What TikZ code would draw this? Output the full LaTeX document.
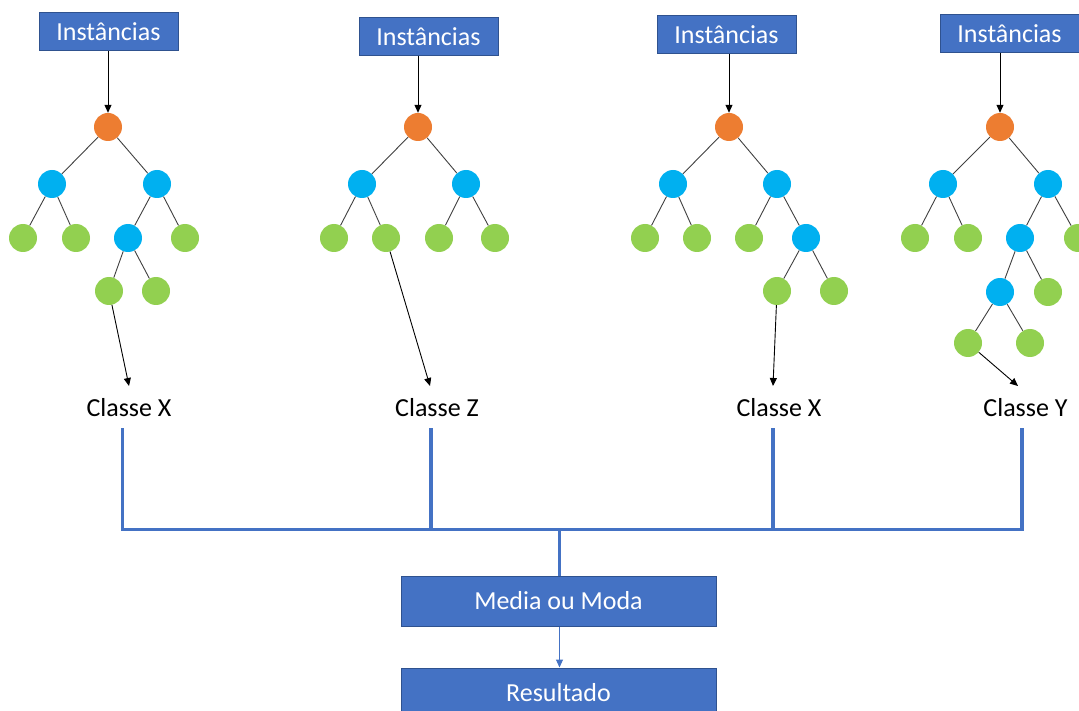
\documentclass[tikz,border=0pt]{standalone}
\usepackage{fontspec}
\setmainfont{Carlito}
\usetikzlibrary{arrows.meta}
\definecolor{boxblue}{HTML}{4472C4}
\definecolor{boxedge}{HTML}{2F528F}
\definecolor{rootorange}{HTML}{ED7D31}
\definecolor{splitblue}{HTML}{00B0F0}
\definecolor{leafgreen}{HTML}{92D050}
\definecolor{edgegrey}{HTML}{404040}
\begin{document}
\begin{tikzpicture}[x=1pt,y=-1pt,
  txt/.style={font=\fontsize{26}{31}\selectfont},
  inbox/.style={txt,draw=boxedge,line width=1pt,fill=boxblue,text=white,
    inner sep=0pt,minimum width=139pt,minimum height=38pt},
  bigbox/.style={inbox,minimum width=315pt,minimum height=50pt},
  root/.style={circle,fill=rootorange,minimum size=28pt,inner sep=0pt},
  split/.style={circle,fill=splitblue,minimum size=28pt,inner sep=0pt},
  leaf/.style={circle,fill=leafgreen,minimum size=28pt,inner sep=0pt},
  edge/.style={draw=edgegrey,line width=0.9pt},
  arr/.style={draw=black,line width=0.9pt,-{Triangle[length=8pt,width=7pt]}},
  cls/.style={txt,anchor=base,text height=18pt,text depth=0pt,inner xsep=2pt,inner ysep=12pt},
  bus/.style={draw=boxblue,line width=3.5pt,line join=miter},
  thinarr/.style={draw=boxblue,line width=1pt,-{Triangle[length=8pt,width=7pt]}}]
\useasboundingbox (0,0) rectangle (1079,711);
\clip (0,0) rectangle (1079,711);

% input boxes
\node[inbox] (in1) at (108.5,32) {Instâncias};
\node[inbox] (in2) at (428.5,36.5) {Instâncias};
\node[inbox] (in3) at (726.5,35) {Instâncias};
\node[inbox] (in4) at (1009.5,33.5) {Instâncias};

% tree 1
\node[root] (a0) at (108,127) {};
\node[split] (a1) at (52,184) {};
\node[split] (a2) at (157,184) {};
\node[leaf] (a3) at (23,238) {};
\node[leaf] (a4) at (76,238) {};
\node[split] (a5) at (128,238) {};
\node[leaf] (a6) at (185,238) {};
\node[leaf] (a7) at (109,291) {};
\node[leaf] (a8) at (156,291) {};
\draw[edge] (a0)--(a1) (a0)--(a2) (a1)--(a3) (a1)--(a4) (a2)--(a5) (a2)--(a6) (a5)--(a7) (a5)--(a8);

% tree 2
\node[root] (b0) at (418,127) {};
\node[split] (b1) at (362,184) {};
\node[split] (b2) at (466,184) {};
\node[leaf] (b3) at (334,238) {};
\node[leaf] (b4) at (386,238) {};
\node[leaf] (b5) at (439,238) {};
\node[leaf] (b6) at (495,238) {};
\draw[edge] (b0)--(b1) (b0)--(b2) (b1)--(b3) (b1)--(b4) (b2)--(b5) (b2)--(b6);

% tree 3
\node[root] (c0) at (729,127) {};
\node[split] (c1) at (673,184) {};
\node[split] (c2) at (777,184) {};
\node[leaf] (c3) at (645,238) {};
\node[leaf] (c4) at (697,238) {};
\node[leaf] (c5) at (749,238) {};
\node[split] (c6) at (806,238) {};
\node[leaf] (c7) at (777,291) {};
\node[leaf] (c8) at (834,291) {};
\draw[edge] (c0)--(c1) (c0)--(c2) (c1)--(c3) (c1)--(c4) (c2)--(c5) (c2)--(c6) (c6)--(c7) (c6)--(c8);

% tree 4
\node[root] (d0) at (1000,127) {};
\node[split] (d1) at (943,184) {};
\node[split] (d2) at (1048,184) {};
\node[leaf] (d3) at (915,238) {};
\node[leaf] (d4) at (968,238) {};
\node[split] (d5) at (1020,238) {};
\node[leaf] (d6) at (1078,238) {};
\node[split] (d7) at (1000,292) {};
\node[leaf] (d8) at (1048,292) {};
\node[leaf] (d9) at (968,343) {};
\node[leaf] (d10) at (1030,343) {};
\draw[edge] (d0)--(d1) (d0)--(d2) (d1)--(d3) (d1)--(d4) (d2)--(d5) (d2)--(d6)
  (d5)--(d7) (d5)--(d8) (d7)--(d9) (d7)--(d10);

% inputs into each root
\draw[arr] (in1.south -| a0) -- (a0.north);
\draw[arr] (in2.south -| b0) -- (b0.north);
\draw[arr] (in3.south -| c0) -- (c0.north);
\draw[arr] (in4.south -| d0) -- (d0.north);

% class labels
\node[cls] (k1) at (129,416) {Classe X};
\node[cls] (k2) at (437,416) {Classe Z};
\node[cls] (k3) at (779,416) {Classe X};
\node[cls] (k4) at (1025.5,416) {Classe Y};

% arrow tips at the labels
\coordinate (t1) at (129,386);
\coordinate (t2) at (430,386);
\coordinate (t3) at (773,386);
\coordinate (t4) at (1018,386);
\draw[arr] (a7) -- (t1);
\draw[arr] (b4) -- (t2);
\draw[arr] (c7) -- (t3);
\draw[arr] (d9) -- (t4);

% collecting bus
\coordinate (j1) at (122.5,529.5);
\coordinate (j2) at (431,529.5);
\coordinate (j3) at (773,529.5);
\coordinate (j4) at (1022,529.5);
\coordinate (jm) at (559.5,529.5);

\node[bigbox] (vote) at (558.5,601) {Media ou Moda};
\node[bigbox] (res) at (558.5,693) {Resultado};

\draw[bus] (j1 |- k1.south) -- (j1) -- (j4) -- (j4 |- k4.south);
\draw[bus] (j2 |- k2.south) -- (j2);
\draw[bus] (j3 |- k3.south) -- (j3);
\draw[bus] (jm) -- (vote.north -| jm);

\draw[thinarr] (vote.south -| jm) -- (res.north -| jm);
\end{tikzpicture}
\end{document}
